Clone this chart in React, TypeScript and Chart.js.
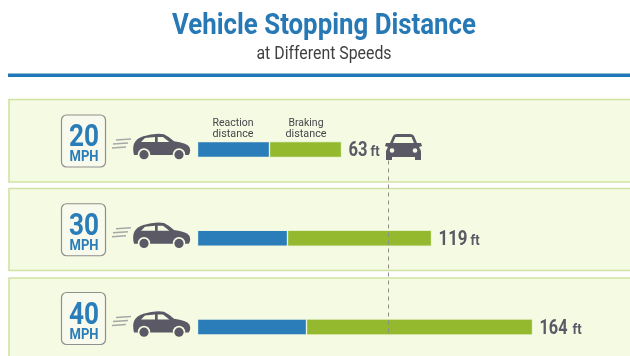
import React, { useEffect, useRef } from "react";
import { Chart, registerables } from "chart.js";

Chart.register(...registerables);

const speeds = ["20", "30", "40"];
const reactionDistance = [36, 45, 54.5];
const brakingDistance = [36, 72, 113];
const totalLabels = ["63", "119", "164"];
const stopLineValue = 95.5;
const seriesNames = ["Reaction distance", "Braking distance"];
const titleText = "Vehicle Stopping Distance";
const subtitleText = "at Different Speeds";

const BLUE = "#2a7db8";
const GREEN = "#94b92f";
const PANEL = "#f5fae3";
const PANEL_EDGE = "#d1e3a3";
const INK = "#5a5965";

function fitText(ctx: CanvasRenderingContext2D, text: string, x: number, y: number, width: number, font: string, color: string, align: "left" | "center" = "center") {
  ctx.save();
  ctx.font = font;
  ctx.fillStyle = color;
  ctx.textBaseline = "alphabetic";
  ctx.textAlign = "left";
  const w = ctx.measureText(text).width;
  const s = width / w;
  ctx.translate(align === "center" ? x - width / 2 : x, y);
  ctx.scale(s, 1);
  ctx.fillText(text, 0, 0);
  ctx.restore();
}

function sideCar(ctx: CanvasRenderingContext2D, cy: number) {
  const X = (v: number) => v / 3;
  const Y = (v: number) => cy + (v - 163.5) / 3;
  const poly = (pts: number[][], color: string) => {
    ctx.beginPath();
    pts.forEach(([a, b], i) => (i ? ctx.lineTo(X(a), Y(b)) : ctx.moveTo(X(a), Y(b))));
    ctx.closePath();
    ctx.fillStyle = color;
    ctx.fill();
  };
  ctx.beginPath();
  ctx.moveTo(X(402), Y(180));
  ctx.quadraticCurveTo(X(397), Y(160), X(402), Y(146));
  ctx.quadraticCurveTo(X(410), Y(130), X(430), Y(124));
  ctx.quadraticCurveTo(X(465), Y(113), X(492), Y(118));
  ctx.quadraticCurveTo(X(505), Y(124), X(522), Y(139));
  ctx.quadraticCurveTo(X(560), Y(144), X(568), Y(156));
  ctx.quadraticCurveTo(X(574), Y(170), X(566), Y(180));
  ctx.closePath();
  ctx.fillStyle = INK;
  ctx.fill();
  poly([[423, 141], [435, 129], [465, 126], [465, 141]], PANEL);
  poly([[473, 126], [489, 126], [508, 141], [473, 141]], PANEL);
  [432, 537].forEach((wx) => {
    ctx.beginPath();
    ctx.arc(X(wx), Y(178), 6.2, 0, Math.PI * 2);
    ctx.fillStyle = PANEL;
    ctx.fill();
    ctx.beginPath();
    ctx.arc(X(wx), Y(179), 4.6, 0, Math.PI * 2);
    ctx.fillStyle = INK;
    ctx.fill();
  });
}

function frontCar(ctx: CanvasRenderingContext2D, cy: number) {
  const x0 = 385;
  const y0 = cy - 16.5;
  ctx.fillStyle = INK;
  ctx.beginPath();
  ctx.moveTo(x0 + 5, y0 + 10);
  ctx.lineTo(x0 + 8, y0 + 3);
  ctx.quadraticCurveTo(x0 + 9, y0 + 1, x0 + 12, y0 + 1);
  ctx.lineTo(x0 + 25, y0 + 1);
  ctx.quadraticCurveTo(x0 + 28, y0 + 1, x0 + 29, y0 + 3);
  ctx.lineTo(x0 + 32, y0 + 10);
  ctx.lineTo(x0 + 36, y0 + 10);
  ctx.lineTo(x0 + 37, y0 + 13);
  ctx.lineTo(x0 + 34, y0 + 14);
  ctx.lineTo(x0 + 36, y0 + 18);
  ctx.lineTo(x0 + 36, y0 + 27);
  ctx.lineTo(x0 + 30, y0 + 27);
  ctx.lineTo(x0 + 30, y0 + 24);
  ctx.lineTo(x0 + 7, y0 + 24);
  ctx.lineTo(x0 + 7, y0 + 27);
  ctx.lineTo(x0 + 1, y0 + 27);
  ctx.lineTo(x0 + 1, y0 + 18);
  ctx.lineTo(x0 + 3, y0 + 14);
  ctx.lineTo(x0, y0 + 13);
  ctx.lineTo(x0 + 1, y0 + 10);
  ctx.closePath();
  ctx.fill();
  ctx.fillStyle = PANEL;
  ctx.beginPath();
  ctx.moveTo(x0 + 8, y0 + 10);
  ctx.lineTo(x0 + 10.5, y0 + 4);
  ctx.lineTo(x0 + 26.5, y0 + 4);
  ctx.lineTo(x0 + 29, y0 + 10);
  ctx.closePath();
  ctx.fill();
  [7, 30].forEach((dx) => {
    ctx.beginPath();
    ctx.arc(x0 + dx, y0 + 17.5, 2.3, 0, Math.PI * 2);
    ctx.fill();
  });
}

const artwork = {
  id: "artwork",
  beforeDatasetsDraw(chart: any) {
    const { ctx } = chart;
    const y = chart.scales.y;
    ctx.save();
    ctx.fillStyle = "#ffffff";
    ctx.fillRect(0, 0, 630, 356);

    fitText(ctx, titleText, 324, 34, 304, "700 29px Roboto", "#2779b6");
    fitText(ctx, subtitleText, 324, 59, 135, "400 18px Roboto", "#3f3f42");
    ctx.fillStyle = "#2178b8";
    ctx.fillRect(8, 73.5, 622, 3.5);

    const tops = [99.5, 188.5, 278];
    const bottoms = [182, 270.5, 400];
    tops.forEach((t, i) => {
      ctx.fillStyle = PANEL;
      ctx.strokeStyle = PANEL_EDGE;
      ctx.lineWidth = 1.6;
      ctx.beginPath();
      ctx.rect(9, t, 640, bottoms[i] - t);
      ctx.fill();
      ctx.stroke();
    });

    speeds.forEach((speed, i) => {
      const cy = y.getPixelForValue(i);
      ctx.fillStyle = "#f7faec";
      ctx.strokeStyle = "#8f8f8b";
      ctx.lineWidth = 1.2;
      ctx.beginPath();
      ctx.roundRect(61.5, cy - 34.5, 44, 52, 5);
      ctx.fill();
      ctx.stroke();
      fitText(ctx, speed, 84, cy - 3.5, 30, "700 32px Roboto", BLUE);
      fitText(ctx, "MPH", 84, cy + 11.5, 29, "700 15px Roboto", BLUE);
      ctx.strokeStyle = "#a8a8a6";
      ctx.lineWidth = 1.3;
      [[116, 131, -10], [113, 128, -6], [112, 126, -2]].forEach(([a, b, d]) => {
        ctx.beginPath();
        ctx.moveTo(a, cy + d + 0.5);
        ctx.lineTo(b, cy + d - 0.5);
        ctx.stroke();
      });
      sideCar(ctx, cy);
    });
    ctx.restore();
  },
  afterDatasetsDraw(chart: any) {
    const { ctx } = chart;
    const x = chart.scales.x;
    const y = chart.scales.y;
    ctx.save();
    const lineX = x.getPixelForValue(stopLineValue);
    ctx.strokeStyle = "#8c8c88";
    ctx.lineWidth = 1;
    ctx.setLineDash([4, 4]);
    ctx.beginPath();
    ctx.moveTo(lineX, y.getPixelForValue(0) + 11);
    ctx.lineTo(lineX, y.getPixelForValue(2) + 6);
    ctx.stroke();
    ctx.setLineDash([]);

    const cy0 = y.getPixelForValue(0);
    frontCar(ctx, cy0);
    const labelWidths = [19, 29, 28];
    const unitGaps = [3, 3, 5];
    totalLabels.forEach((label, i) => {
      const cy = y.getPixelForValue(i);
      const end = x.getPixelForValue(reactionDistance[i] + brakingDistance[i]);
      const start = end + 7;
      fitText(ctx, label, start, cy + 6.5, labelWidths[i], "700 21px Roboto", INK, "left");
      fitText(ctx, "ft", start + labelWidths[i] + unitGaps[i], cy + 6.5, 9, "700 14px Roboto", INK, "left");
    });

    const rx = x.getPixelForValue(reactionDistance[0] / 2);
    const bx = x.getPixelForValue(reactionDistance[0] + brakingDistance[0] / 2);
    const [rTop, rBottom] = seriesNames[0].split(" ");
    const [bTop, bBottom] = seriesNames[1].split(" ");
    const font = "400 11.5px Roboto";
    fitText(ctx, rTop, rx - 0.5, 126, 41, font, "#45454a");
    fitText(ctx, rBottom, rx - 0.5, 137, 41, font, "#45454a");
    fitText(ctx, bTop, bx + 0.5, 126, 35, font, "#45454a");
    fitText(ctx, bBottom, bx + 0.5, 137, 41, font, "#45454a");
    ctx.restore();
  },
};

export default function App() {
  const ref = useRef<HTMLCanvasElement>(null);
  useEffect(() => {
    document.body.style.margin = "0";
    const chart = new Chart(ref.current!, {
      type: "bar",
      data: {
        labels: speeds,
        datasets: [
          { label: seriesNames[0], data: reactionDistance, backgroundColor: BLUE, borderColor: "#eef5e0", borderWidth: 1, borderSkipped: false, barThickness: 16, clip: false } as any,
          { label: seriesNames[1], data: brakingDistance, backgroundColor: GREEN, borderColor: "#e6f0c6", borderWidth: 1, borderSkipped: false, barThickness: 16, clip: false } as any,
        ],
      },
      options: {
        indexAxis: "y",
        animation: false,
        responsive: false,
        layout: { padding: { left: 197.5, right: 0, top: 149.5, bottom: 29 } },
        plugins: { legend: { display: false }, title: { display: false }, tooltip: { enabled: false } },
        scales: {
          x: { stacked: true, display: false, min: 0, max: 216.25 },
          y: { stacked: true, display: false, offset: false },
        },
      },
      plugins: [artwork],
    });
    return () => chart.destroy();
  }, []);
  return <canvas ref={ref} width={630} height={356} style={{ display: "block", width: 630, height: 356 }} />;
}
